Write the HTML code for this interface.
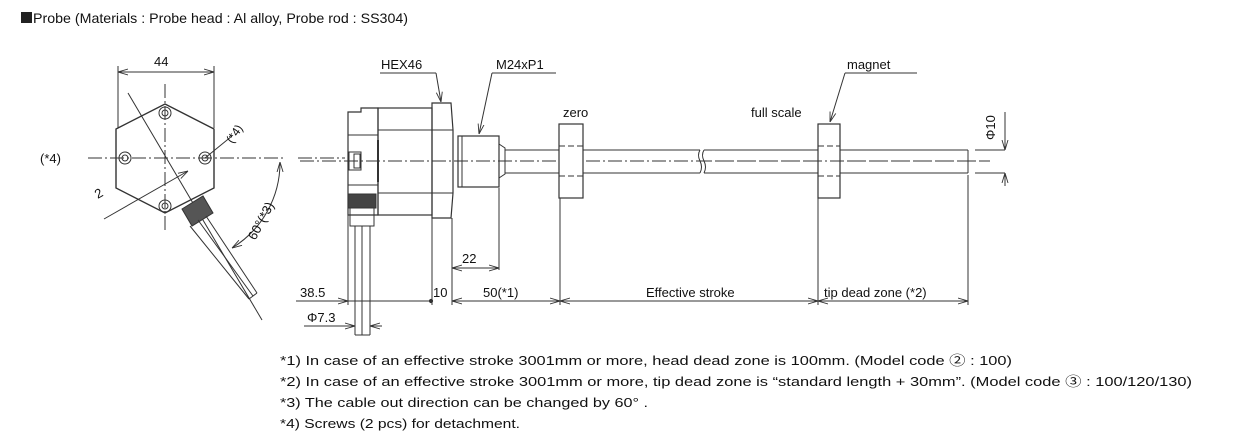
<!DOCTYPE html>
<html><head><meta charset="utf-8"><style>
html,body{margin:0;padding:0;background:#fff;}
svg{display:block;}
text{font-family:"Liberation Sans","Noto Sans CJK JP",sans-serif;fill:#111;}
</style></head><body>
<svg width="1236" height="445" viewBox="0 0 1236 445" xmlns="http://www.w3.org/2000/svg">
<defs>
<marker id="a" markerWidth="10" markerHeight="8" refX="10" refY="4" orient="auto-start-reverse" markerUnits="userSpaceOnUse"><path d="M0,1 L10,4 L0,7" fill="none" stroke="#333" stroke-width="0.9"/></marker>
</defs>
<rect x="21" y="12" width="11" height="11" fill="#222"/>
<text x="33" y="23" font-size="14" textLength="375" lengthAdjust="spacingAndGlyphs">Probe (Materials : Probe head : Al alloy, Probe rod : SS304)</text>

<!-- LEFT VIEW -->
<g stroke="#333" stroke-width="1" fill="none">
<line x1="118" y1="66" x2="118" y2="128"/><line x1="214" y1="66" x2="214" y2="128"/>
<line x1="118" y1="72" x2="214" y2="72" marker-start="url(#a)" marker-end="url(#a)"/>
<polygon points="165,104 214,129 214,188 165,213 116,188 116,129" stroke-width="1.4"/>
<line x1="165" y1="84" x2="165" y2="232" stroke-dasharray="14,3,2,3"/>
<line x1="88" y1="158" x2="284" y2="158" stroke-dasharray="14,3,2,3"/>
<line x1="298" y1="158" x2="345" y2="158" stroke-dasharray="14,3,2,3"/>
<circle cx="165" cy="113" r="6"/><circle cx="165" cy="113" r="3"/>
<circle cx="125" cy="158" r="6"/><circle cx="125" cy="158" r="3"/>
<circle cx="205" cy="158" r="6"/><circle cx="205" cy="158" r="3"/>
<circle cx="165" cy="206" r="6"/><circle cx="165" cy="206" r="3"/>
<line x1="128" y1="93" x2="262" y2="320"/>
<line x1="205" y1="158" x2="232" y2="136"/>
<line x1="104" y1="219" x2="188" y2="171" marker-end="url(#a)"/>
<polygon points="182,209 203,196 213,213 192,226" fill="#555"/>
<line x1="190" y1="226" x2="249" y2="299"/><line x1="206" y1="216" x2="257" y2="293"/>
<line x1="198" y1="220" x2="253" y2="296"/>
<line x1="249" y1="299" x2="257" y2="293"/>
<path d="M280,162 A100,100 0 0 1 232,248" marker-start="url(#a)" marker-end="url(#a)"/>
</g>
<text x="154" y="66" font-size="13">44</text>
<text x="40" y="163" font-size="13">(*4)</text>
<text x="97" y="196" font-size="13" transform="rotate(-30 103 196)">2</text>
<text x="226" y="140" font-size="12" transform="rotate(-55 233 136)">(*4)</text>
<text x="244" y="238" font-size="13" transform="rotate(-62 252 230)">60°(*3)</text>

<!-- SIDE VIEW -->
<g stroke="#333" stroke-width="1" fill="none">
<line x1="300" y1="161" x2="700" y2="161" stroke-dasharray="14,3,2,3"/>
<line x1="715" y1="161" x2="990" y2="161" stroke-dasharray="14,3,2,3"/>
<path d="M348,112 L361,112 L361,108 L378,108 L378,215 L348,215 Z" stroke-width="1.2"/>
<rect x="378" y="108" width="54" height="107" stroke-width="1.2"/>
<line x1="348" y1="135" x2="378" y2="135"/><line x1="378" y1="130" x2="432" y2="130"/><line x1="378" y1="193" x2="432" y2="193"/>
<line x1="348" y1="185" x2="378" y2="185"/>
<rect x="349" y="152" width="12" height="18"/><rect x="354" y="154" width="6" height="14"/>
<line x1="378" y1="140" x2="378" y2="182" stroke-width="2"/>
<path d="M432,103 L451,103 L453,130 L453,193 L451,218 L432,218 Z" stroke-width="1.2"/>
<line x1="432" y1="130" x2="453" y2="130"/><line x1="432" y1="193" x2="453" y2="193"/>
<rect x="458" y="136" width="41" height="51" stroke-width="1.2"/>
<line x1="462" y1="136" x2="462" y2="187"/>
<path d="M499,144 L505,148 L505,174 L499,178"/>
<line x1="505" y1="150" x2="700" y2="150"/><line x1="505" y1="173" x2="700" y2="173"/>
<path d="M700,150 q-3,5 0,11 q3,6 0,12 M704,150 q-3,5 0,11 q3,6 0,12"/>
<line x1="704" y1="150" x2="968" y2="150"/><line x1="704" y1="173" x2="968" y2="173"/>
<line x1="968" y1="150" x2="968" y2="173"/>
<rect x="559" y="124" width="24" height="74" fill="#fff" stroke-width="1.2"/>
<line x1="559" y1="146" x2="583" y2="146" stroke-dasharray="6,3"/><line x1="559" y1="176" x2="583" y2="176" stroke-dasharray="6,3"/>
<rect x="818" y="124" width="22" height="74" fill="#fff" stroke-width="1.2"/>
<line x1="818" y1="146" x2="840" y2="146" stroke-dasharray="6,3"/><line x1="818" y1="176" x2="840" y2="176" stroke-dasharray="6,3"/>
<line x1="698" y1="161" x2="990" y2="161" stroke-dasharray="14,3,2,3"/>
<rect x="348" y="194" width="28" height="14" fill="#444"/>
<rect x="350" y="208" width="24" height="18"/>
<line x1="355" y1="226" x2="355" y2="335"/><line x1="370" y1="226" x2="370" y2="335"/>
<line x1="362" y1="226" x2="362" y2="335"/>
<line x1="355" y1="335" x2="370" y2="335"/>
<line x1="380" y1="73" x2="436" y2="73"/><line x1="436" y1="73" x2="441" y2="102" marker-end="url(#a)"/>
<line x1="492" y1="73" x2="556" y2="73"/><line x1="492" y1="73" x2="479" y2="134" marker-end="url(#a)"/>
<line x1="845" y1="73" x2="917" y2="73"/><line x1="845" y1="73" x2="830" y2="122" marker-end="url(#a)"/>
<line x1="348" y1="215" x2="348" y2="305"/>
<line x1="432" y1="218" x2="432" y2="305"/>
<line x1="452" y1="218" x2="452" y2="305"/>
<line x1="499" y1="188" x2="499" y2="270"/>
<line x1="560" y1="198" x2="560" y2="305"/>
<line x1="818" y1="198" x2="818" y2="305"/>
<line x1="968" y1="175" x2="968" y2="305"/>
<line x1="452" y1="268" x2="499" y2="268" marker-start="url(#a)" marker-end="url(#a)"/>
<line x1="296" y1="301" x2="348" y2="301" marker-end="url(#a)"/>
<line x1="348" y1="301" x2="432" y2="301"/>
<circle cx="431" cy="301" r="1.6" fill="#333"/>
<line x1="452" y1="301" x2="560" y2="301" marker-start="url(#a)" marker-end="url(#a)"/>
<line x1="560" y1="301" x2="818" y2="301" marker-start="url(#a)" marker-end="url(#a)"/>
<line x1="818" y1="301" x2="968" y2="301" marker-start="url(#a)" marker-end="url(#a)"/>
<line x1="304" y1="326" x2="355" y2="326" marker-end="url(#a)"/>
<line x1="382" y1="326" x2="370" y2="326" marker-end="url(#a)"/>
<line x1="975" y1="150" x2="1005" y2="150"/><line x1="975" y1="173" x2="1005" y2="173"/>
<line x1="1005" y1="112" x2="1005" y2="150" marker-end="url(#a)"/>
<line x1="1005" y1="186" x2="1005" y2="173" marker-end="url(#a)"/>
</g>
<text x="381" y="69" font-size="13">HEX46</text>
<text x="496" y="69" font-size="13">M24xP1</text>
<text x="563" y="117" font-size="13">zero</text>
<text x="751" y="117" font-size="13">full scale</text>
<text x="847" y="69" font-size="13">magnet</text>
<text x="995" y="140" font-size="13" transform="rotate(-90 995 140)">Φ10</text>
<text x="462" y="263" font-size="13">22</text>
<text x="300" y="297" font-size="13">38.5</text>
<text x="433" y="297" font-size="13">10</text>
<text x="483" y="297" font-size="13">50(*1)</text>
<text x="646" y="297" font-size="13">Effective stroke</text>
<text x="824" y="297" font-size="13">tip dead zone (*2)</text>
<text x="307" y="322" font-size="13">Φ7.3</text>

<text x="280" y="365" font-size="13" textLength="732" lengthAdjust="spacingAndGlyphs">*1) In case of an effective stroke 3001mm or more, head dead zone is 100mm. (Model code ② : 100)</text>
<text x="280" y="386" font-size="13" textLength="912" lengthAdjust="spacingAndGlyphs">*2) In case of an effective stroke 3001mm or more, tip dead zone is “standard length + 30mm”. (Model code ③ : 100/120/130)</text>
<text x="280" y="407" font-size="13" textLength="368" lengthAdjust="spacingAndGlyphs">*3) The cable out direction can be changed by 60°  .</text>
<text x="280" y="428" font-size="13" textLength="240" lengthAdjust="spacingAndGlyphs">*4) Screws (2 pcs) for detachment.</text>
</svg>
</body></html>
